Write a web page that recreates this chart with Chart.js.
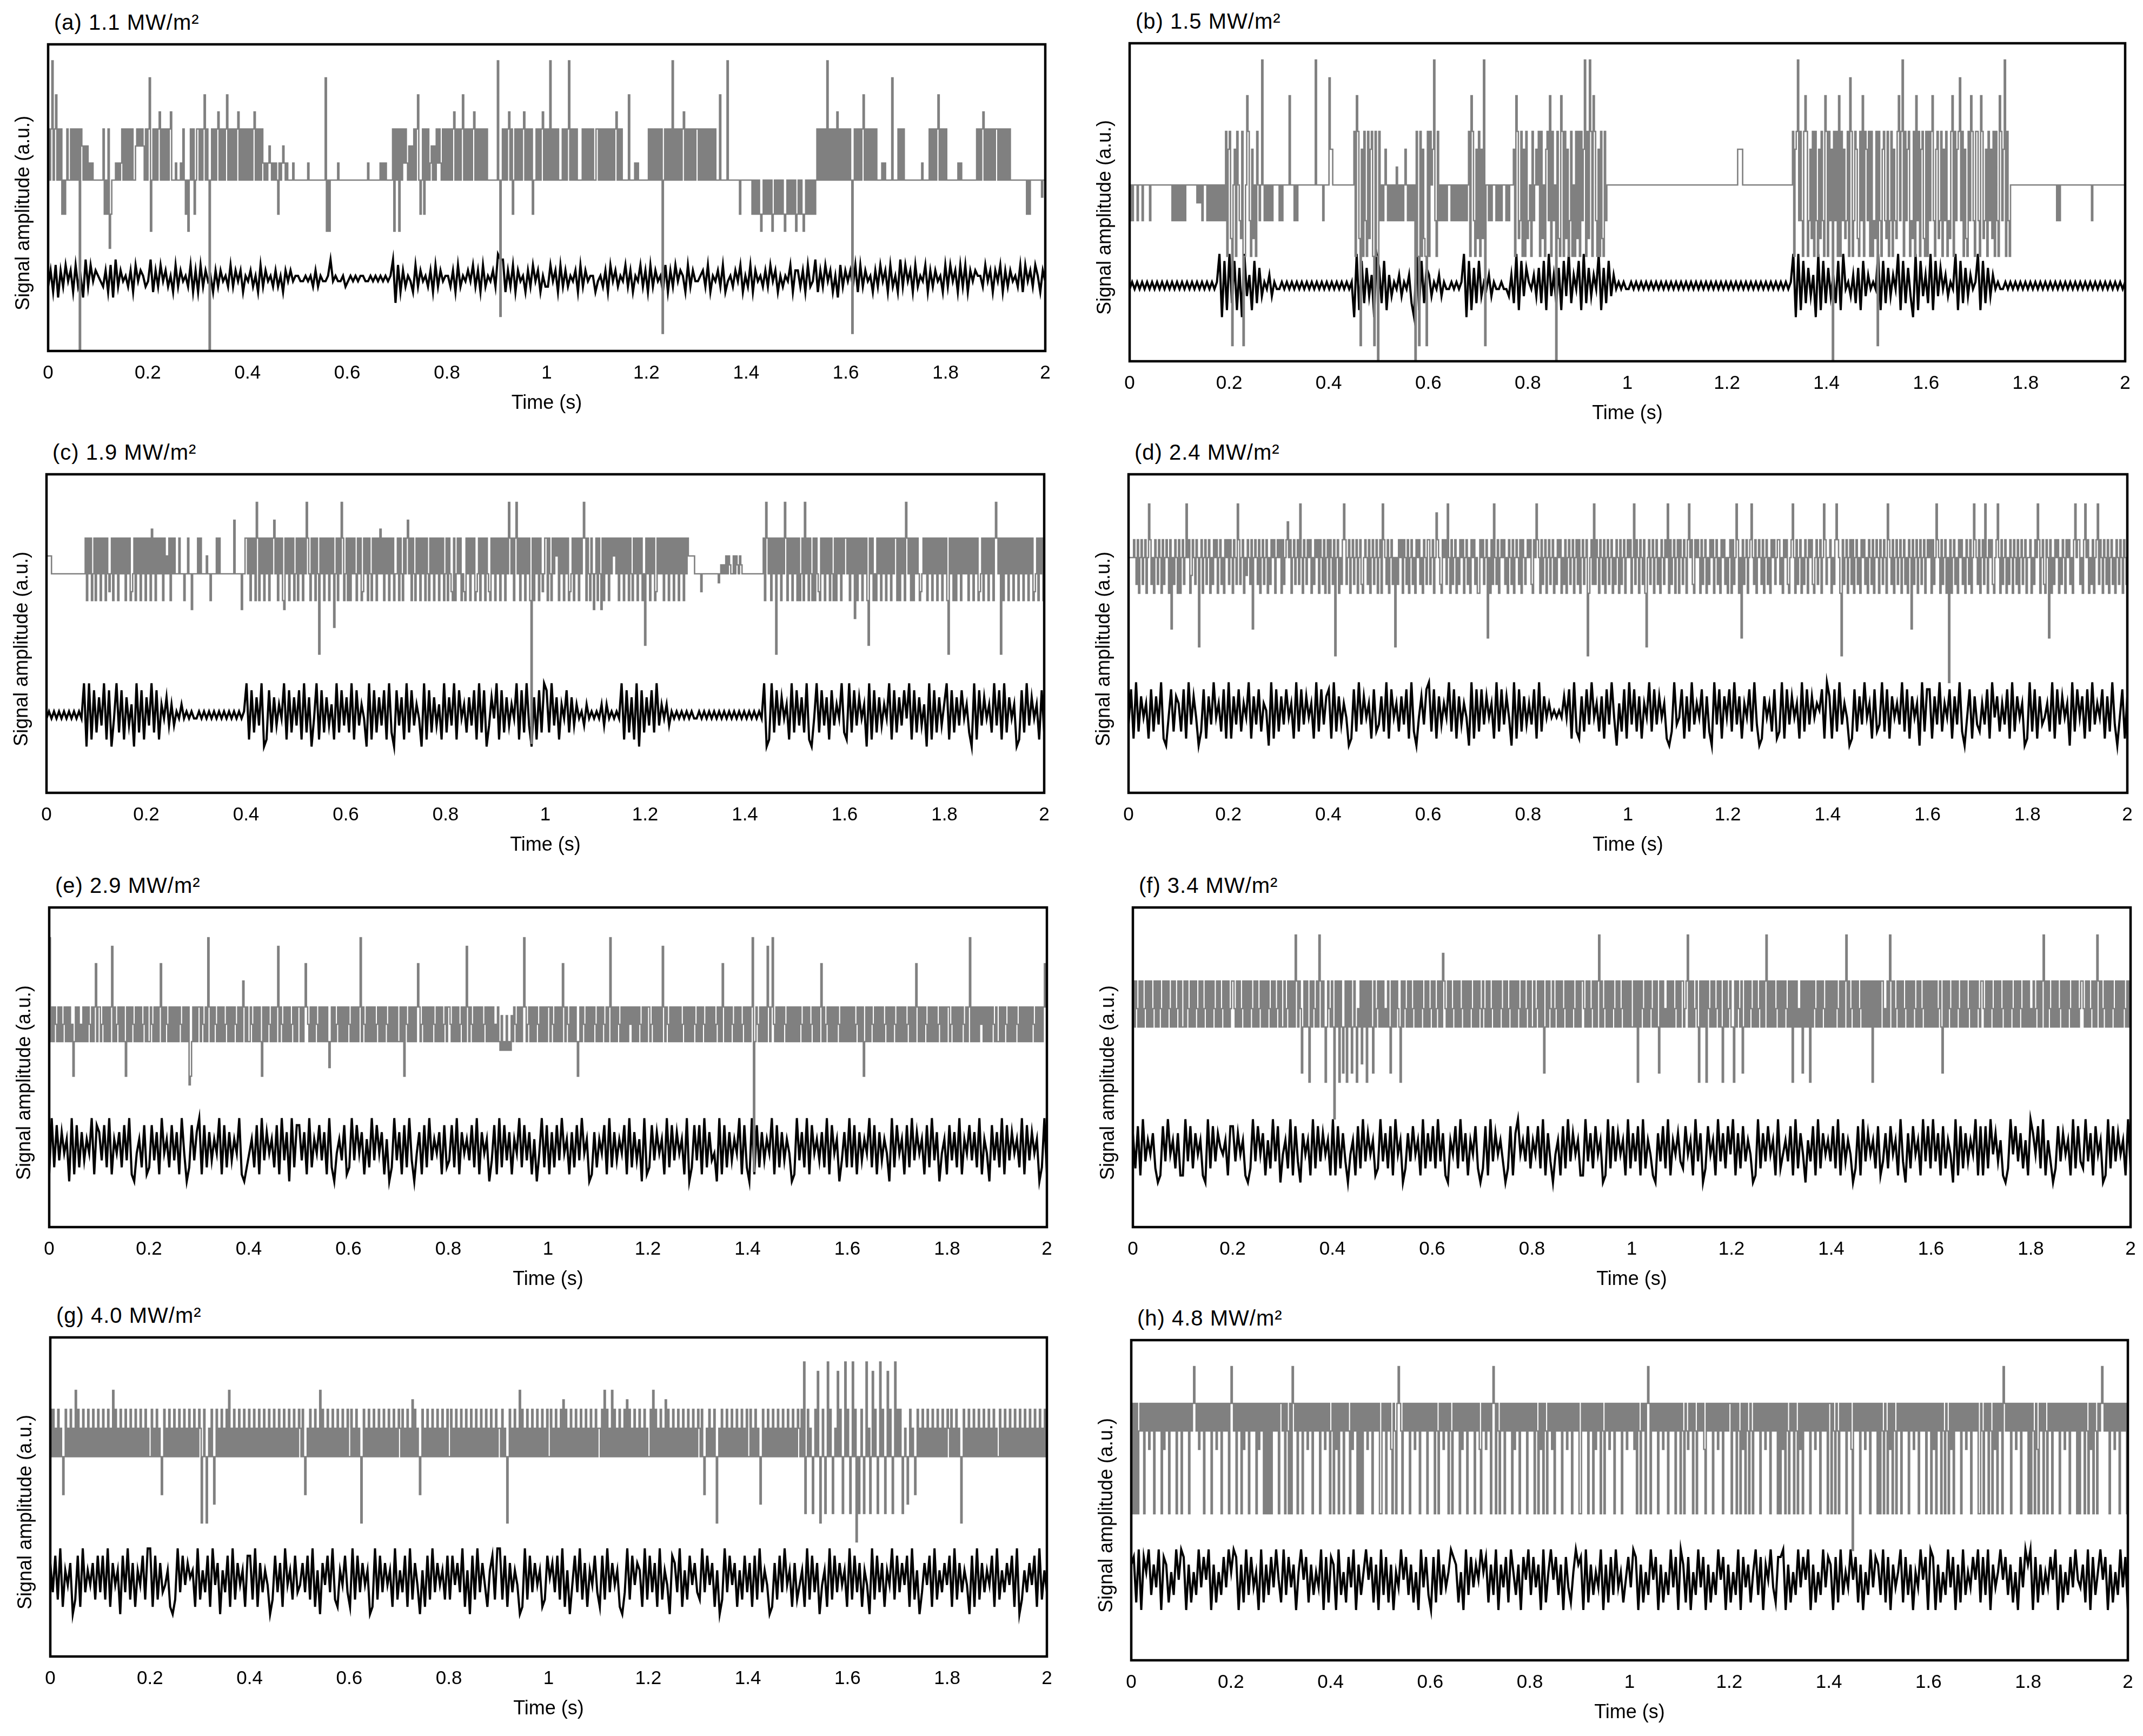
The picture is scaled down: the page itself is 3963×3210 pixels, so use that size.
<!DOCTYPE html>
<html lang="en">
<head>
<meta charset="UTF-8" />
<title>Signal amplitude vs time, 1.1 to 4.8 MW/m2</title>
<script src="https://cdn.jsdelivr.net/npm/chart.js"></script>
<style>
  html, body { margin: 0; padding: 0; background: #fff; }
  body {
    position: relative;
    width: 3963px;
    height: 3210px;
    overflow: hidden;
    font-family: "Liberation Sans", Arial, sans-serif;
    color: #000;
  }
  canvas { position: absolute; }
  .ptitle {
    position: absolute;
    font-size: 40px;
    line-height: 40px;
    letter-spacing: 1px;
    white-space: nowrap;
  }
  .ylab {
    position: absolute;
    width: 520px;
    height: 40px;
    line-height: 40px;
    font-size: 36px;
    text-align: center;
    white-space: nowrap;
    transform: rotate(-90deg);
  }
</style>
</head>
<body>
<script>
const timeTicks = [0, 0.2, 0.4, 0.6, 0.8, 1, 1.2, 1.4, 1.6, 1.8, 2];
const tickLabels = ['0', '0.2', '0.4', '0.6', '0.8', '1', '1.2', '1.4', '1.6', '1.8', '2'];
const panelTitles = ['(a) 1.1 MW/m²', '(b) 1.5 MW/m²', '(c) 1.9 MW/m²', '(d) 2.4 MW/m²',
                     '(e) 2.9 MW/m²', '(f) 3.4 MW/m²', '(g) 4.0 MW/m²', '(h) 4.8 MW/m²'];

// One character per sample, one block of characters per 0.1 s.
// Gray trace: base-36 level, 'k' = resting level (40 samples per block).
// Black trace: digit 0-9 (20 samples per block).
const grayA = `nknrknpknknikiknkknknknknanmkmkmklklkkkk kkkknikingikkklklklnknknknknkkmnmnmnmknk nqhknknknoknknknknokkklkkklknkikhknknikn nknknpknkaknknknoknknknpknknknknoknknknk
 nknknoknknknlklklmlklklkilklmlklkkkklkkk kkkkkkkklkkkkkkkkkkkkkqhkhkkkkkklkkkkkkk kkkkkkkkkkkkkkkklkkkkkkkkklklklkkkkknhnk nhnknlnlkmkmknknpkikninknklmkmknlnlknknk
 nknknoknknknpknknknknoknknknknknkkkkkkkk rkcknknknokniknknknknoknknknikknknknoknk nkrknknknkkknknknrknknknkkkknknknknknkkn nknknknknknknknoknknkkkkkpkkkklklkkkkkkk
 knknknknknknbknknknkrknknknknoknknknknkn nknknknknknknknkkkpkkkkkrkkkkkkkkkikkkkk kkkkikikikihikikikikhikikikikihikikikikh ikikihikikikikiknknknknkrknknknkoknknknk
 nknkbknknknknpknknknknknkkkklklkkkkkqkkk knknknkkkkkkkkkkkkkklkkkkknknknknpknknkn kkkkkkkkklklkkkkkkkkkkkknknknoknknknknkn nknknknknknkkkkkkkkkkkkkikikkkkkkkkkjkkk`;
const blackA = `36271637462735183746 54362718364536274653 48263746352736453726 27364526364537364625 46352736453635264645
 54454536354458454453 45454554454545454580 72635427364536273645 53627354647362735463 98826372645263746253
 37462736354627364552 45362746354736254736 27364527263746527364 45637254637245364725 37264536374625354726
 63627348263746251736 46372736452637462735 28374627354726364527 37462737264655374626 47263645372746375264`;

const grayB = `ikikkkikkkikkkkkikkkkkkkkkkkkkkkkkikikik ikikikkkkkkkkkjkjkikkkikikikikikikikingm nhbkmgnkihnbgkpnigmhkgnkikrkikikikikkkkk ikikkkkkpkkkikikkkkkkkkkkkkkkrkkkkkikkkk
 qmmkkkkkkkkkkkkkkkkkngpnhbmgnignhmngbnga nikikmkikikikilikikikmkikikikangbngmhgbn gnkmrignikikikikkkikikikikikikikngpnigmh ngmhrbkkikikkkikikikkkikikkkmgpnhingmgnh
 ikgnikmkngnhkgmnipgnikanhgpngnhmgingkgnh ngnimrgnhrngpnigmgnhgnikkkkkkkkkkkkkkkkk kkkkkkkkkkkkkkkkkkkkkkkkkkkkkkkkkkkkkkkk kkkkkkkkkkkkkkkkkkkkkkkkkkkkkkkkkkkkkkkk
 kkkkkkkkmmmmkkkkkkkkkkkkkkkkkkkkkkkkkkkk kkkkkkkkkkkkngmnrinignpngimhngnigmhnigpn gnimaningpgnimhingqnginmhgnipgnmingngihn bnigmnihngingmihnpinrgnimngihngpingmnhgn
 gninpigmnhingmingihnpgnimnqingmhgnipnign nigpnhimgnimhngnigpnimrgnigkkkkkkkkkkkkk kkkkkkkkkkkkkkkkkkkkkkkkikikkkkkkkkkkkkk kkkkkkkkkkkkikkkkkkkkkkkkkkkkkkkkkkkkkkk`;
const blackB = `45454545454545454545 45454545454545459081 92817093618273546354 45454545454545454545 45454545450918273609
 72816354635462091827 63546354454545908172 83546354454436291837 54637281936271839264 81927364917283645454
 45454545454545454545 45454545454545454545 45454545454545454545 45454590918273609182 73628194536271836454
 91827364918273091836 29183746354918273645 91827364544545454545 45454545454545454545 45454545454545454545`;

const grayC = `mmmmkkkkkkkkkkkkkkkkkkkkkkkkkkkohokohkoh okohokohokikohokohokokohokohikohokohokoh okohpkohokokohokmkohokokkkokkkhkkokkgkkk kokokkkkmkkhkkkkokokkkkkkkkkkkqkkkkkgkko
 okohokohsohokohokohokoqkohokohgokohokohk ohokohoksokhokohokbokohokohokoekohoksohk ohohokokhokohiokohokhokohokpkohokohokohk kohokhokoqkohokhokohokohokhokohokohokohk
 ohokihohkokohkihokohokohikohokohokihokoh okohokohoksokohoskohokohokoh1ohokohokiko ohokhokomohokohokohikohokohokosohokhokgk ohokgohokohokomokohokohokohokhokohokohkc
 okohokohiokokohokohokohokohokohokommmmmk kkkkikkkkkkkkkkkkkjklklkmkmlkkmkmlkmlkkk kkkkkkkkkkkkkkohsokohokobokohoksohokohok ohohkohskohokhohokihokohokohokhohokohoko
 okohokofohokohokohcokohkhokohokohokohoko ohohokohsokohohokokhikokohokohokohokohok ohbokohohokohokokohokohokohikohokohokoho sokobohokohokohokohokohokohokohikohokohk`;
const blackC = `45454545454545490918 27391804928173609281 73928164736354645454 45454545454545454545 91827390182736491827
 38192704918273619283 72918364091827381920 83719283640918273619 27391846273819280374 91827364918293071829
 82937164827364536454 54636454549182719082 73829364635454545454 45454545454545454545 45454549019283746192
 83729104928371836492 19283746091827364918 27384918273609182736 91827384620918374629 38192746018293746182`;

const grayD = `kkkkmkhmgkmhkmgkqmhkgmkhmkgmhkmkgmckhmkg mgkmhkqkmgimkhmkakmgkmhkmgkhmkmgkmhkgmkm hmkgmkhqmhkmgkimkhmckmkhmgkmhkmgkhmkmgkm kmgmhkmokmgkmhkmhqkgmkhmkmgkhmkmgmkhmgkm
 gmkhm9kmgkhmqmhkmgkmhkmgkmhgkmkhmgkmhkmg kmgqmkhmgkmhkakhmkmgmkhmgkmhkgmkmhkgmkhm mhkmgkpmkhgmkmhqkgmhkmgkhmkmgkmhkgmkmhkg gmkmhkmbkgmhqkhmgkmkmhkgmkhmgkmkhmgmkhkm
 kmhgmkqmkgmhkmgkmhkmgkhmkmgkhmgkmhkmgkmh mgkmhkm9gkmhqhmkgmkhmgkmhkmgkhmkgmhkmgkm kmgkqhmkgmkhmgakmhkmgkmhkgmkhmkqgmhkmgkm gmkhmkgmqkmhgmkmkgmhkmgkhmkmgkmhkgmkmhkg
 kmgmhkqmgkbmhkmgkmqkhmgkmkhmgkmhkgmkmhkm mhkgmkmhgkmqkgmhkmgkhmkgmkmhgkmhkmgkqmhk kmgkhmqmkg9mhkmgkmhmgkmhkgmkmhkgmkhmgkmk gmkhmkgqmkhmgkmhkmgkmhkgmkcmhkmgkmhkmgkm
 kmgmhkqmkgmhkmgk6mgkmhkgmkmhkgmkhmgkqmkh mgkmhqkgmkmhgkmqkgmhkmgkhmkgmkhmgkmhkmgk kmgkhmkqmgkmhgmkbmgkhmkmgkhmkgmkmhkgmqkm mhkgmqkmgkhmgkmqhmkgmkhmgkmhkgmkhmkgmkhm`;
const blackD = `38192746182739104827 62819374028173946281 91738264917382650918 27384619283746192837 81927364018293746182
 37291846273819204738 92817364928173640918 28374619283740918273 63819274645454748192 17283946271839406281
 93827164928374610293 48172936481720938174 82937164829301746281 29183746192837465819 71829364018273946182
 39281746392817460928 81739264817392048173 26381947263819274601 92817346291837460928 47182936481729304817`;

const grayE = `sgkgkigkgkgikgkgkgicgkgkgigkgkgkigkgkpgk kgikgkgkgkrgkgikgkgkgckgkgkigkgkgkgikgkg gkigkgkgkpgkgkigkgkgkgkgkigkgkgkbcgkgkgk kgkigkgskgkgkigkgkgkgikgkgkgkigkgkgnkgkg
 gkigkgkgkgckgkgkigkgkgkrgkigkgkgkgikgkgk kgkgkpkigkgkgkigkgkgkgkgdgkgkgikgkgkgkgk igkgkgkgksgkigkgkgkgkgikgkgkgkigkgkgkgkg gkgkckigkgkgkgkpkgikgkgkgkgkigkgkgkgikgk
 kigkgkgkgikgkgrkgkigkgkgkgkgikgkgkgkgigk gfjfgfjfgfjgkigkgkgkskgikgkgkgkigkgkgkgk kgkigkgkgkgpkgkigkgkgkgcgkgkigkgkgkgkigk gkgkigkgksgkgkgkigkgkgkgkikgkgkgkigkgkgk
 kgikgkgkgkgrkgkigkgkgkgkgkgikgkgkgkgkigk gkgkigkgkgkgkgikgkgpkgkgkgkigkgkgkgikgkg kgks1gkigkgkgkgrkgksigkgkgkgkigkgkgkgkgk gkigkgkgkgikgkgkgkpgkgikgkgkgkgkigkgkgkg
 kgkgkgikgkgkcgkgkgkigkgkgkgkgikgkgkgkigk gkgkgkgikgkgkgpkgkgkgkigkgkgkgkgikgkgkgk kgikgkgkgkgkigkgksgkgkgkgkikgkgkgkgkigkg gkgkgkigkgkgkgkigkgkgkgkgkgkigkgkgkgkpkk`;
const blackE = `19283746091827364918 73829164728391046281 28371946283719402837 91827364918273649102 46281937462819370928
 83719264837192046381 29384716293847160293 71829304718293647182 38291746382917460381 92837164928371604928
 17283946172839460172 64819273648192736091 28374619283746190283 81927340918273649182 09182736491827364019
 37291846372918460372 92817364928173640928 46182937461829370461 83729164837291640837 29183746291837460291`;

const grayF = `kfkhfkfkfhkfkfkfhkfkfkhfkfkfkhfkfkfhkfkf fkfkhfkfkfkhfkfkfhkfkfkfkhfkfkfhkfkfkfhk khfkfkfhkfkfkfkhfkfkfhkfkfkfkhfkfkfhkfkf fkfhkfkfkfpkfkhafkfkf9kfkhfkfpkfkf9fkhfk
 f5kfk9kfafk9kfkafkf9hfkbkfk9kfkfakfhkfkf kfhfkfakfkfkhf9kfkhfkfkfhkfkfkfkhfkfkfhk fkfhkfkfnkhfkfkfhkfkfkfhkfkfkfkhfkfkfkhf khfkfkfhkfkfkfkhfkfkfhkfkfkfkhfkfkfhkfkf
 fkfhkfkfkafkfkhfkfhkfkfkfhkfkfkfkhfkfkfk khfkfkfhkfkfkpfkfhkfkfkfkhfkfkfhkfkfkfkf fkfk9kfkhfkfkfkhfkfkfakfkfhfkfkfkfhkfkfk kfhkpfkfkfhkf9kfkfk9khfkfkfhkfkf9kfkfhkf
 f9kfkhfkafkfkfkhfkfkfhkfkfkpfkfkfkfhkfkf kfkhfkfk9kfkfhfkakfkfk9kfkhfkfkfkhfkfkfk fkfkhfkfkfkpfkfhkfkfkfhkfkfkfkfk9kfkfkfk kfhfkfpkfkfhkfkfkfhkfkfkfkhfkfkfhkfkfkfk
 fkfkfhkfakfkfkhfkfkfkhfkfkfkfhkfkfkfkhfk khfkfkfkhfkfkfkfhkfkfkfkhfkfkfkhfkfkfkfh fkfhkfkfkpfkfkhfkfkfkfhkfkfkfkhfkfkfkfhk khfkfkfhkfkfpkfkfhkfkfkfkhfkfkfkfkhfkfkf`;
const blackF = `72819364720183946271 19382746109283754618 83746102938471629380 46291830746192837461 91827304618293746129
 37281946027384619273 82937106482937164820 28193746302817946382 64829173046182937461 19372846019283746192
 73819264107382916473 28461937028461937284 91728364019273846192 46381927406381927463 82917364028193746281
 37284619307284619382 93718264091827364918 18294736102948372619 74829163028374619283 29371846019283746192`;

const grayG = `mhmhkhmhkhdhmhkhmhkhohmhkhmhkhmhkhmhkhmh khmhkhmhkhohmhkhmhkhmhkhmhkhmhkhmhkhmhkh hmhkhmhkhdhmhkhmhkhmhkhmhkhmhkhmhkhmhkhm kahmhahkhmhchmhkhmhkhmhohkhmhkhmhkhmhkhm
 hkhmhkhmhkhmhkhmhkhmhkhmhkhmhkhmhkhmhkhm khmhdhkhmhkhmhkhohmhkhmhkhmhkhmhkhmhkhmh hmhkhmhkhahmhkhmhkhmhkhmhkhmhkhmhkhmhkhm khmhkhmhkhnhmhkhdhmhkhmhkhmhkhmhkhmhkhmh
 hmhkhmhkhmhkhmhkhmhkhmhkhmhkhmhkhmhkhmhk khmhkhahmhkhmhkhohmhkhmhkhmhkhmhkhmhkhmh hmhkhmhkhmhnhmhkhmhkhmhkhmhkhmhkhmhkhmhk khmhohmhkhohmhkhmhkhmhnhmhkhmhkhmhkhmhkh
 hmhohmhkhmhkhnhmhkhmhkhmhkhmhkhmhkhmhkhm khmhdhkhmhkhmhahkhmhkhmhkhmhkhmhkhmhkhmh hmhkhmhkhchmhkhmhkhmhkhmhkhmhkhmhkhmhkhm khmhrbhmhkhbhmhqhahmhbhrhmhbhkhqhmhbhrhm
 hbhrhm8hbhmhbhrhkbhqhmhbhrhmhbhqhmhbhrhm hmhbhkhchmhkhdhmhkhmhkhmhkhmhkhmhkhmhkhm khmhkhmhkhahmhkhmhkhmhkhmhkhmhkhmhkhmhkh hmhkhmhkhmhkhmhkhmhkhmhkhmhkhmhkhmhkhmhk`;
const blackG = `73829164702819364728 38291746083927164829 91827346102938475619 26381947063819274618 82917364028371946283
 47382916074839216483 19283746019283746192 63819274061829374628 28473916082937416829 92817364019283746128
 57382916048392716483 18293746103928476192 83719264087391628473 29384716029384716283 71829364017283946172
 46192837046192837461 92837164092837164928 37481926037481926374 81927364081927364819 26374819026374819263`;

const grayH = `k8k8k8hkhk8khkfkhk8khkhk8kfkhk8khkhk8khk 8khkhk8khkokhkfkhk8khkhk8khkfkhk8khkhk8k okhk8khk8kfkhk8khkhk8kfkhk8k8k8k8khkhk8k khk8kh8k8okhk8khk8khkfkhk8khkhk8khkfkhk8
 hk8kfk8khk8khkh8kfkhk8k8k8khkfkhk8khkhk8 8khk8khkf8kh8kokh8khkhk8khkfkhk8khkhk8kh khk8kh8khkfkhk8kh8khkhk8kfkhk8khkhk8khkf 8khkfkhk8kok8kh8khk8khkhk8kfkhk8khkhk8kh
 khk8kh8kfk8kh8khkfk8khkhk8khkfkhk8khkhk8 8khkhk8khk8kfkhk8kh8khkfkhk8khkhk8khkfkh khkfk8kh8khk8kok8khkhk8khkfkhk8khkhk8khk 8kh8khfkhk8kh8khkhkf8khkhk8khkfkhk8khkhk
 k8khk8kh8kfk8kh8kh8khkhk8khkfkhk8khkhk8k 8kfk8kh8khk8kh8kfk8khkhk8khkfkhk8khkhk8k k8kh8kh8khkhk8khkf4khkhk8khkfkhk8khkhk8k 8kh8kh8kfk8kh8khk8khkhk8khkfkhk8khkhk8kh
 k8kfk8khk8kh8kh8kfk8khkhk8khkfkhk8khkhk8 8kh8khk8kh8kfk8khk8okhkhk8khkfkhk8khkhk8 k8kh8kf8khk8kh8khk8khkhk8khkfkhk8khkhk8k 8khk8kh8kfk8kh8khkokhkhk8khkfkhk8khkhk8k`;
const blackH = `78291869374918726395 98172639485917263849 69817293846192738495 29384716958273649182 87193628491736958271
 93827164958372619483 18293746987261938475 96827391748296371859 38471926958371842697 81927364917283946258
 49817263958172639481 97281639481726395817 26391847269381759428 89172639485917263948 71829364958271639487
 39281746928371649581 98172639481729364859 28391746958372618497 91827364859172638495 47291836958172639481`;

// plot box of each panel on the page: left, top, right, bottom
const panelBoxes = [
  [89, 82, 1933, 649], [2089, 80, 3930, 668],
  [86, 877, 1931, 1466], [2087, 877, 3934, 1466],
  [91, 1678, 1936, 2269], [2095, 1678, 3940, 2269],
  [93, 2473, 1936, 3063], [2092, 2478, 3935, 3070]
];
// value ranges of the two hidden y scales of each panel
const grayRanges = [[9.97, 27.97], [10.12, 27.94], [-4.55, 31.15], [-6.36, 29.33],
                    [-5.44, 31.5], [-6.76, 28], [-4.11, 29.6], [-7.94, 26.88]];
const blackRanges = [[-8.9, 47.8], [-6.27, 38.96], [-6.58, 38.73], [-6.73, 38.6],
                     [-6.5, 38.96], [-6.35, 39.12], [-5.8, 37.9], [-5.64, 36.64]];

const grayTraces = [grayA, grayB, grayC, grayD, grayE, grayF, grayG, grayH];
const blackTraces = [blackA, blackB, blackC, blackD, blackE, blackF, blackG, blackH];

Chart.defaults.font.family = '"Liberation Sans", Arial, sans-serif';
Chart.defaults.color = '#000';

function levels(s) {
  return Array.from(s.replace(/\s+/g, ''), c => parseInt(c, 36));
}
function asPoints(vals) {
  return vals.map((v, i) => ({ x: 2 * i / (vals.length - 1), y: v }));
}

// black frame round the plot area
const frame = {
  id: 'frame',
  afterDraw(chart) {
    const { ctx, chartArea: a } = chart;
    ctx.save();
    ctx.strokeStyle = '#000';
    ctx.lineWidth = 4.5;
    ctx.strokeRect(a.left, a.top, a.right - a.left, a.bottom - a.top);
    ctx.restore();
  }
};

panelBoxes.forEach((box, k) => {
  const [L, T, R, B] = box;

  const canvas = document.createElement('canvas');
  canvas.width = R - L + 130;
  canvas.height = B - T + 140;
  canvas.style.left = (L - 90) + 'px';
  canvas.style.top = (T - 10) + 'px';
  document.body.appendChild(canvas);

  const title = document.createElement('div');
  title.className = 'ptitle';
  title.textContent = panelTitles[k];
  title.style.left = (L + 11) + 'px';
  title.style.top = (T - 61) + 'px';
  document.body.appendChild(title);

  const ylab = document.createElement('div');
  ylab.className = 'ylab';
  ylab.textContent = 'Signal amplitude (a.u.)';
  ylab.style.left = (L - 47 - 260) + 'px';
  ylab.style.top = ((T + B) / 2 + 28 - 20) + 'px';
  document.body.appendChild(ylab);

  new Chart(canvas, {
    type: 'line',
    data: {
      datasets: [
        { data: asPoints(levels(grayTraces[k])), yAxisID: 'yg', borderColor: '#808080',
          borderWidth: 2.6, stepped: true, pointRadius: 0 },
        { data: asPoints(levels(blackTraces[k])), yAxisID: 'yb', borderColor: '#000',
          borderWidth: 4, pointRadius: 0, tension: 0 }
      ]
    },
    options: {
      responsive: false,
      animation: false,
      events: [],
      layout: { padding: { left: 90, right: 40, top: 10, bottom: 0 } },
      plugins: { legend: { display: false }, tooltip: { enabled: false } },
      scales: {
        x: {
          type: 'linear', min: 0, max: 2,
          afterFit: s => { s.height = 130; },
          afterBuildTicks: s => { s.ticks = timeTicks.map(v => ({ value: v })); },
          ticks: { padding: 20, font: { size: 35 }, color: '#000', maxRotation: 0, autoSkip: false,
                   callback: (v, i) => tickLabels[i] },
          grid: { display: false, drawTicks: false },
          border: { display: false },
          title: { display: true, text: 'Time (s)', font: { size: 36 }, color: '#000',
                   padding: { top: 0, bottom: 11 } }
        },
        yg: { display: false, min: grayRanges[k][0], max: grayRanges[k][1] },
        yb: { display: false, min: blackRanges[k][0], max: blackRanges[k][1] }
      }
    },
    plugins: [frame]
  });
});
</script>
</body>
</html>
